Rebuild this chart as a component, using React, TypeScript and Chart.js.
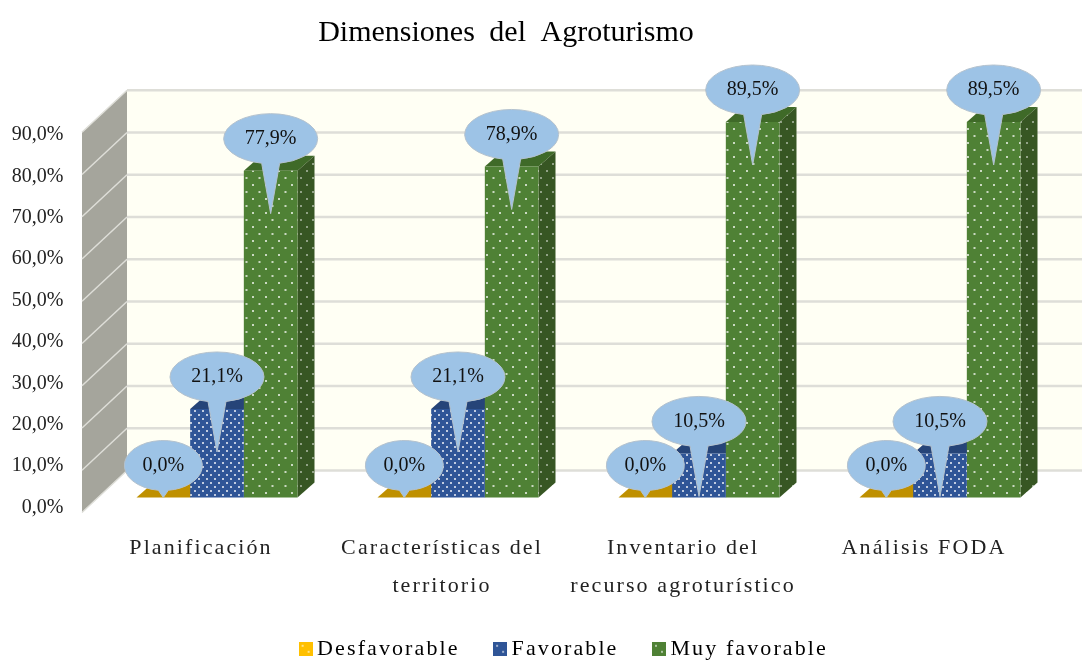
import React, { useEffect, useRef } from "react";
import { Chart, registerables } from "chart.js";

Chart.register(...registerables);

const titleText = "Dimensiones del Agroturismo";
const categories: (string | string[])[] = [
  "Planificación",
  ["Características del", "territorio"],
  ["Inventario del", "recurso agroturístico"],
  "Análisis FODA",
];
const seriesNames = ["Desfavorable", "Favorable", "Muy favorable"];
const desfavorable = [0, 0, 0, 0];
const favorable = [21.1, 21.1, 10.5, 10.5];
const muyFavorable = [77.9, 78.9, 89.5, 89.5];
const gridValues = [0, 10, 20, 30, 40, 50, 60, 70, 80, 90];

const frontColors = ["#C99A06", "#2F5597", "#4F8135"];
const topColors = ["#BF9000", "#264478", "#3F6A28"];
const sideColors = ["#A67C00", "#203864", "#375623"];
const legendColors = ["#FFC000", "#2F5597", "#4F8135"];

const SERIF = "'Liberation Serif', serif";
const SPACING = "2.1px";
const DEPTH_X = 17;
const DEPTH_Y = 15;
const BACK_X = 45;
const BACK_Y = 42;

function dotted(color: string, dot: string, w: number, h: number) {
  const c = document.createElement("canvas");
  c.width = w;
  c.height = h;
  const g = c.getContext("2d")!;
  g.fillStyle = color;
  g.fillRect(0, 0, w, h);
  g.fillStyle = dot;
  g.fillRect(2, 2, 2, 2);
  g.fillRect(2 + w / 2, 2 + h / 2, 2, 2);
  return g.createPattern(c, "repeat")!;
}

function legendSwatch(color: string) {
  const c = document.createElement("canvas");
  c.width = 14;
  c.height = 14;
  const g = c.getContext("2d")!;
  g.fillStyle = color;
  g.fillRect(0, 0, 14, 14);
  g.fillStyle = "rgba(255,255,255,0.55)";
  g.fillRect(3, 3, 2, 2);
  g.fillRect(9, 9, 2, 2);
  return c;
}

const scene = {
  id: "scene",
  beforeUpdate(chart: any) {
    chart.ctx.letterSpacing = SPACING;
  },
  afterLayout(chart: any) {
    chart.titleBlock.right = 1012;
    chart.legend.left += 4;
    chart.legend.right += 4;
    const x = chart.scales.x;
    x._computeLabelArea = () => undefined;
    const y = chart.scales.y;
    if (!y.__wrapped) {
      y.__wrapped = true;
      const orig = y.drawLabels;
      y.drawLabels = function (a: any) {
        chart.ctx.letterSpacing = "0px";
        orig.call(y, a);
        chart.ctx.letterSpacing = SPACING;
      };
      const tb = chart.titleBlock;
      const origT = tb.draw;
      tb.draw = function () {
        chart.ctx.letterSpacing = "0px";
        chart.ctx.wordSpacing = "7px";
        origT.call(tb);
        chart.ctx.wordSpacing = "0px";
        chart.ctx.letterSpacing = SPACING;
      };
    }
  },
  beforeDatasetsDraw(chart: any) {
    const { ctx, chartArea, scales } = chart;
    const w = scales.yWall;
    const L = chartArea.left + 1.5;
    const bx = L + BACK_X;
    ctx.save();
    // back wall
    ctx.fillStyle = "#FFFFF4";
    ctx.fillRect(bx, w.getPixelForValue(90) - BACK_Y, 1082 - bx, w.getPixelForValue(0) - w.getPixelForValue(90));
    // side wall
    ctx.fillStyle = "#A5A59C";
    ctx.beginPath();
    ctx.moveTo(L, w.getPixelForValue(90));
    ctx.lineTo(bx, w.getPixelForValue(90) - BACK_Y);
    ctx.lineTo(bx, w.getPixelForValue(0) - BACK_Y);
    ctx.lineTo(L, w.getPixelForValue(0));
    ctx.closePath();
    ctx.fill();
    gridValues.forEach((v) => {
      const py = w.getPixelForValue(v);
      ctx.strokeStyle = "#DEDED8";
      ctx.lineWidth = 2.5;
      ctx.beginPath();
      ctx.moveTo(bx, py - BACK_Y);
      ctx.lineTo(1082, py - BACK_Y);
      ctx.stroke();
      ctx.lineWidth = 1.5;
      ctx.beginPath();
      ctx.moveTo(L, py);
      ctx.lineTo(bx, py - BACK_Y);
      ctx.stroke();
    });
    // bars sit further into the scene than the front plane
    ctx.translate(DEPTH_X - 1, 0);
    chart.data.datasets.forEach((_: any, di: number) => {
      chart.getDatasetMeta(di).data.forEach((el: any) => {
        const { x, y, width, base } = el;
        const l = x - width / 2;
        const r = x + width / 2;
        ctx.fillStyle = topColors[di];
        ctx.beginPath();
        ctx.moveTo(l, y);
        ctx.lineTo(l + DEPTH_X, y - DEPTH_Y);
        ctx.lineTo(r + DEPTH_X, y - DEPTH_Y);
        ctx.lineTo(r, y);
        ctx.closePath();
        ctx.fill();
        if (base - y > 0.5) {
          ctx.fillStyle = dotted(sideColors[di], "rgba(255,255,255,0.45)", 12, 14);
          ctx.beginPath();
          ctx.moveTo(r, y);
          ctx.lineTo(r + DEPTH_X, y - DEPTH_Y);
          ctx.lineTo(r + DEPTH_X, base - DEPTH_Y);
          ctx.lineTo(r, base);
          ctx.closePath();
          ctx.fill();
        }
      });
    });
  },
  afterDatasetsDraw(chart: any) {
    const { ctx } = chart;
    chart.data.datasets.forEach((ds: any, di: number) => {
      chart.getDatasetMeta(di).data.forEach((el: any, i: number) => {
        const value = ds.data[i];
        const cx = el.x;
        const cy = el.y - 32;
        const rx = value === 0 ? 39 : 47;
        const ry = 25;
        const tip = Math.min(el.y + 43, el.base);
        const half = value === 0 ? 5 : 9;
        const t = Math.acos(half / rx);
        ctx.beginPath();
        ctx.ellipse(cx, cy, rx, ry, 0, Math.PI / 2 + (Math.PI / 2 - t), Math.PI / 2 - (Math.PI / 2 - t) + 2 * Math.PI);
        ctx.lineTo(cx, tip);
        ctx.closePath();
        ctx.fillStyle = "#9DC3E6";
        ctx.fill();
        ctx.strokeStyle = "#B4C2CE";
        ctx.lineWidth = 1;
        ctx.stroke();
        ctx.letterSpacing = "0px";
        ctx.fillStyle = "#111111";
        ctx.font = `20px ${SERIF}`;
        ctx.textAlign = "center";
        ctx.textBaseline = "middle";
        ctx.fillText(value.toFixed(1).replace(".", ",") + "%", cx, cy);
        ctx.letterSpacing = SPACING;
      });
    });
    ctx.restore();
  },
};

export default function App() {
  const ref = useRef<HTMLCanvasElement>(null);
  useEffect(() => {
    const mk = (i: number) => dotted(frontColors[i], "rgba(255,255,255,0.7)", i === 1 ? 8 : 13, i === 1 ? 8 : 14);
    const chart = new Chart(ref.current!, {
      type: "bar",
      data: {
        labels: categories as any,
        datasets: [desfavorable, favorable, muyFavorable].map((d, i) => ({
          label: seriesNames[i],
          data: d,
          backgroundColor: mk(i),
          borderWidth: 0,
          yAxisID: "yBar",
          clip: false as any,
          categoryPercentage: 0.668,
          barPercentage: 1,
        })),
      },
      options: {
        responsive: false,
        animation: false,
        layout: { padding: { right: 37.5, bottom: -8.8 } },
        plugins: {
          tooltip: { enabled: false },
          title: {
            display: true,
            text: titleText,
            color: "#000",
            font: { family: SERIF, size: 30, weight: "normal" },
            padding: { top: 15, bottom: 84 },
          },
          legend: {
            position: "bottom",
            fullSize: false,
            labels: {
              color: "#222",
              font: { family: SERIF, size: 22 },
              usePointStyle: true,
              pointStyleWidth: 1,
              boxHeight: 14,
              padding: 40,
              generateLabels: () =>
                seriesNames.map((n, i) => ({
                  text: n,
                  pointStyle: legendSwatch(legendColors[i]) as any,
                  fillStyle: legendColors[i],
                  strokeStyle: "transparent",
                  lineWidth: 0,
                  datasetIndex: i,
                })),
            },
          },
        },
        scales: {
          x: {
            grid: { display: false },
            border: { display: false },
            afterFit: (s: any) => {
              s.height = 90.3;
            },
            ticks: {
              autoSkip: false,
              maxRotation: 0,
              minRotation: 0,
              padding: 13,
              color: "#222",
              font: { family: SERIF, size: 22, lineHeight: 1.75 },
            },
          },
          y: {
            min: 0,
            max: 90,
            grid: { display: false },
            border: { display: false },
            afterFit: (s: any) => {
              s.width = 80.5;
            },
            ticks: {
              stepSize: 10,
              padding: 9,
              color: "#222",
              font: { family: SERIF, size: 20 },
              callback: (v: any) => Number(v).toFixed(1).replace(".", ",") + "%",
            },
          },
          yBar: { display: false, min: -2.387, max: 86.4 },
          yWall: { display: false, min: 1.185, max: 89.336 },
        },
      },
      plugins: [scene],
    });
    return () => chart.destroy();
  }, []);
  return (
    <canvas
      ref={ref}
      width={1082}
      height={661}
      style={{ position: "fixed", left: 0, top: 0, background: "#fff" }}
    />
  );
}
